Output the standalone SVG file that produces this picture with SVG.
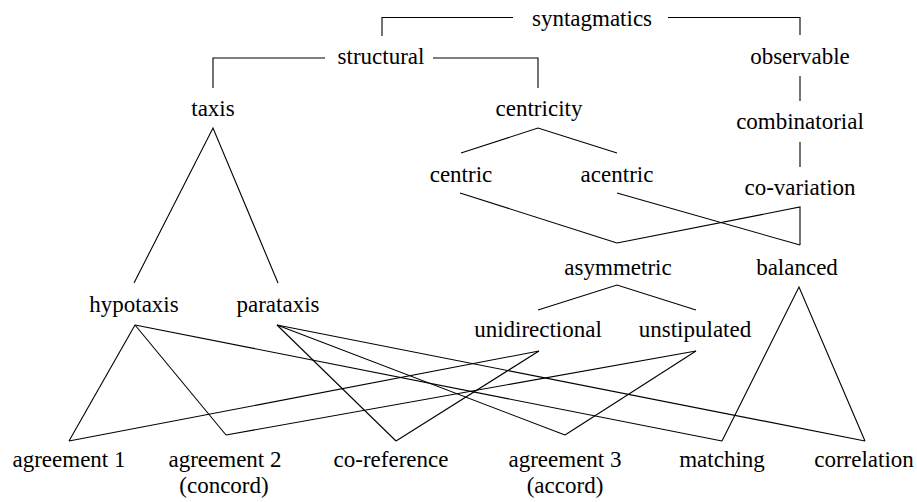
<svg xmlns="http://www.w3.org/2000/svg" width="917" height="502" viewBox="0 0 917 502">
<style>
text{font-family:Liberation Serif,serif;font-size:23px;fill:#000;text-anchor:middle}
.c line,.c polyline{stroke:#000;stroke-width:1.1;fill:none}
</style>
<rect width="917" height="502" fill="#fff"/>
<g class="c" id="connectors">
<polyline points="382,36 382,17.5 513,17.5"/>
<polyline points="668,17.5 800,17.5 800,35"/>
<polyline points="213,88 213,58 325,58"/>
<polyline points="433,58 538,58 538,88"/>
<line x1="800" y1="76" x2="800" y2="101"/>
<line x1="800" y1="142" x2="800" y2="167"/>
<polyline points="461,153 538,128 617,153"/>
<line x1="460" y1="193" x2="617" y2="243"/>
<line x1="617" y1="193" x2="800" y2="245"/>
<polyline points="617,243 800,207 800,245"/>
<polyline points="538,310 617,285 696,310"/>
<polyline points="134,283 213,128 278,283"/>
<polyline points="722,441 799,287 865,441"/>
<line x1="135" y1="325" x2="69" y2="441"/>
<line x1="135" y1="325" x2="226" y2="435"/>
<line x1="135" y1="325" x2="722" y2="441"/>
<line x1="277" y1="325" x2="396" y2="441"/>
<line x1="277" y1="325" x2="565" y2="435"/>
<line x1="277" y1="325" x2="865" y2="441"/>
<line x1="539" y1="351" x2="69" y2="441"/>
<line x1="539" y1="351" x2="396" y2="441"/>
<line x1="696" y1="351" x2="226" y2="435"/>
<line x1="696" y1="351" x2="565" y2="435"/>
</g>
<g id="syntagmatics"><text x="592" y="26">syntagmatics</text></g>
<g id="structural"><text x="381" y="64">structural</text></g>
<g id="observable"><text x="800" y="64">observable</text></g>
<g id="taxis"><text x="213" y="116">taxis</text></g>
<g id="centricity"><text x="539" y="116">centricity</text></g>
<g id="combinatorial"><text x="800" y="129">combinatorial</text></g>
<g id="centric"><text x="461" y="182">centric</text></g>
<g id="acentric"><text x="617" y="182">acentric</text></g>
<g id="co-variation"><text x="800" y="195">co-variation</text></g>
<g id="asymmetric"><text x="618" y="275">asymmetric</text></g>
<g id="balanced"><text x="797" y="275">balanced</text></g>
<g id="hypotaxis"><text x="134" y="312">hypotaxis</text></g>
<g id="parataxis"><text x="278" y="312">parataxis</text></g>
<g id="unidirectional"><text x="538" y="337">unidirectional</text></g>
<g id="unstipulated"><text x="695" y="337">unstipulated</text></g>
<g id="agreement1"><text x="69" y="467">agreement 1</text></g>
<g id="agreement2"><text x="225" y="467">agreement 2</text><text x="224" y="493">(concord)</text></g>
<g id="co-reference"><text x="391" y="467">co-reference</text></g>
<g id="agreement3"><text x="565" y="467">agreement 3</text><text x="565" y="493">(accord)</text></g>
<g id="matching"><text x="722" y="467">matching</text></g>
<g id="correlation"><text x="864" y="467">correlation</text></g>
</svg>
